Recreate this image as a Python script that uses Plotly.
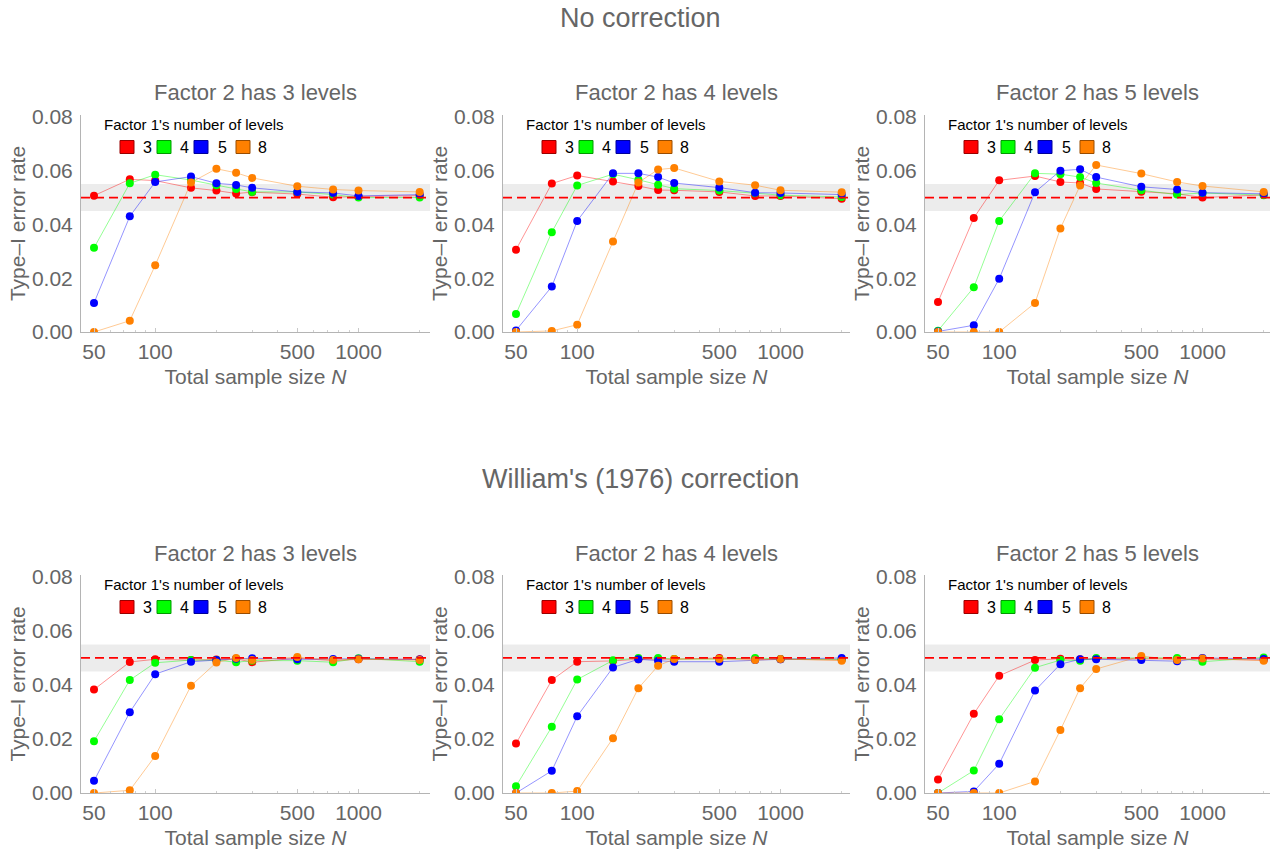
import math
import plotly.graph_objects as go

# ---------------- data ----------------
N = [50, 75, 100, 150, 200, 250, 300, 500, 750, 1000, 2000]
f1_levels = ["3", "4", "5", "8"]
f2_levels = [3, 4, 5]
corrections = ["No correction", "William's (1976) correction"]

nocorr_f2_3 = {
    "3": [0.0507, 0.0568, 0.0563, 0.0536, 0.0526, 0.0515, 0.0520, 0.0513, 0.0501, 0.0504, 0.0507],
    "4": [0.0313, 0.0553, 0.0585, 0.0565, 0.0546, 0.0532, 0.0521, 0.0521, 0.0511, 0.0500, 0.0500],
    "5": [0.0108, 0.0430, 0.0558, 0.0578, 0.0553, 0.0547, 0.0536, 0.0521, 0.0517, 0.0506, 0.0511],
    "8": [0.0000, 0.0042, 0.0248, 0.0556, 0.0607, 0.0592, 0.0573, 0.0542, 0.0530, 0.0526, 0.0521],
}
nocorr_f2_4 = {
    "3": [0.0306, 0.0552, 0.0582, 0.0560, 0.0543, 0.0528, 0.0527, 0.0521, 0.0506, 0.0506, 0.0496],
    "4": [0.0067, 0.0371, 0.0545, 0.0587, 0.0566, 0.0548, 0.0533, 0.0526, 0.0516, 0.0509, 0.0502],
    "5": [0.0006, 0.0169, 0.0413, 0.0590, 0.0590, 0.0576, 0.0554, 0.0537, 0.0518, 0.0517, 0.0511],
    "8": [0.0000, 0.0004, 0.0027, 0.0337, 0.0556, 0.0604, 0.0610, 0.0560, 0.0546, 0.0527, 0.0520],
}
nocorr_f2_5 = {
    "3": [0.0112, 0.0424, 0.0564, 0.0580, 0.0558, 0.0554, 0.0532, 0.0522, 0.0514, 0.0500, 0.0510],
    "4": [0.0005, 0.0166, 0.0413, 0.0590, 0.0587, 0.0576, 0.0554, 0.0527, 0.0511, 0.0517, 0.0509],
    "5": [0.0002, 0.0025, 0.0198, 0.0520, 0.0600, 0.0605, 0.0576, 0.0540, 0.0530, 0.0518, 0.0514],
    "8": [0.0000, 0.0000, 0.0000, 0.0108, 0.0385, 0.0545, 0.0621, 0.0589, 0.0558, 0.0543, 0.0521],
}
williams_f2_3 = {
    "3": [0.0383, 0.0485, 0.0495, 0.0492, 0.0494, 0.0497, 0.0484, 0.0499, 0.0490, 0.0495, 0.0495],
    "4": [0.0192, 0.0418, 0.0482, 0.0492, 0.0492, 0.0484, 0.0490, 0.0490, 0.0484, 0.0499, 0.0486],
    "5": [0.0045, 0.0299, 0.0440, 0.0486, 0.0492, 0.0497, 0.0499, 0.0495, 0.0496, 0.0497, 0.0494],
    "8": [0.0000, 0.0010, 0.0137, 0.0397, 0.0483, 0.0500, 0.0492, 0.0503, 0.0492, 0.0495, 0.0492],
}
williams_f2_4 = {
    "3": [0.0183, 0.0418, 0.0486, 0.0489, 0.0495, 0.0495, 0.0495, 0.0500, 0.0495, 0.0495, 0.0493],
    "4": [0.0025, 0.0245, 0.0420, 0.0491, 0.0500, 0.0500, 0.0496, 0.0496, 0.0500, 0.0496, 0.0495],
    "5": [0.0000, 0.0082, 0.0284, 0.0465, 0.0495, 0.0490, 0.0486, 0.0486, 0.0492, 0.0495, 0.0500],
    "8": [0.0000, 0.0000, 0.0007, 0.0203, 0.0388, 0.0471, 0.0496, 0.0496, 0.0492, 0.0496, 0.0490],
}
williams_f2_5 = {
    "3": [0.0050, 0.0293, 0.0434, 0.0492, 0.0497, 0.0495, 0.0497, 0.0497, 0.0497, 0.0496, 0.0492],
    "4": [0.0000, 0.0083, 0.0273, 0.0464, 0.0492, 0.0490, 0.0500, 0.0500, 0.0500, 0.0486, 0.0502],
    "5": [0.0000, 0.0006, 0.0108, 0.0379, 0.0477, 0.0495, 0.0495, 0.0492, 0.0488, 0.0500, 0.0496],
    "8": [0.0000, 0.0000, 0.0000, 0.0043, 0.0233, 0.0388, 0.0459, 0.0507, 0.0492, 0.0498, 0.0490],
}
nominal_alpha = 0.05
band_low, band_high = 0.045, 0.055

x_tickvals = [50, 100, 500, 1000]
x_minor = [40, 60, 70, 80, 90, 200, 300, 400, 600, 700, 800, 900, 2000]
y_tickvals = [0.0, 0.02, 0.04, 0.06, 0.08]
y_ticktext = ["0.00", "0.02", "0.04", "0.06", "0.08"]

panels = [
    [nocorr_f2_3, nocorr_f2_4, nocorr_f2_5],
    [williams_f2_3, williams_f2_4, williams_f2_5],
]

# ---------------- styling ----------------
colors = {"3": (255, 0, 0), "4": (0, 255, 0), "5": (0, 0, 255), "8": (255, 128, 0)}
W, H = 1270, 850
FONT = "Liberation Sans, Arial, Helvetica, sans-serif"
GREY = "#666666"
# positions below are in screen pixels
col_left = [81, 503, 925]
col_right = [430, 850, 1270]
row_top = [115, 575]
row_bot = [332, 793]
px_per_decade = 203.3
x50_offset = 13

fig = go.Figure()
annotations = []
shapes = []

def px(xp):
    return xp / W

def py(yp):
    return 1 - yp / H

k = 0
for r in range(2):
    for c in range(3):
        k += 1
        xa = "x" if k == 1 else f"x{k}"
        ya = "y" if k == 1 else f"y{k}"
        data = panels[r][c]
        for lev in f1_levels:
            rgb = colors[lev]
            fig.add_trace(go.Scatter(
                x=N, y=data[lev], mode="lines+markers",
                xaxis=xa, yaxis=ya, showlegend=False,
                line=dict(color=f"rgba({rgb[0]},{rgb[1]},{rgb[2]},0.42)", width=1),
                marker=dict(color=f"rgb({rgb[0]},{rgb[1]},{rgb[2]})", size=8),
                name=lev,
            ))
        L, R = col_left[c], col_right[c]
        lo = math.log10(50) - x50_offset / px_per_decade
        hi = lo + (R - L) / px_per_decade
        common_font = dict(family=FONT, size=21, color=GREY)
        fig.layout[f"xaxis{k if k > 1 else ''}"] = dict(
            type="log", domain=[px(L), min(1.0, px(R))], range=[lo, hi],
            anchor=ya, showgrid=False, zeroline=False, automargin=False,
            showline=True, linecolor="#b4b4b4", linewidth=1,
            tickvals=x_tickvals, ticktext=[str(v) for v in x_tickvals],
            ticks="inside", ticklen=4, tickcolor="#c8c8c8",
            minor=dict(tickvals=x_minor, ticks="inside", ticklen=2, tickcolor="#d0d0d0"),
            tickfont=common_font, ticklabelstandoff=1,
            title=dict(text="Total sample size <i>N</i>", font=common_font, standoff=7),
        )
        fig.layout[f"yaxis{k if k > 1 else ''}"] = dict(
            domain=[py(row_bot[r]), py(row_top[r])], range=[0, 0.0807],
            anchor=xa, showgrid=False, zeroline=False, automargin=False,
            showline=True, linecolor="#b4b4b4", linewidth=1,
            tickvals=y_tickvals, ticktext=y_ticktext, ticks="",
            tickfont=common_font, ticklabelstandoff=3,
            title=dict(text="Type\u2013I error rate", font=common_font, standoff=0),
        )
        # reference band and nominal line
        shapes.append(dict(type="rect", xref=f"{xa} domain", yref=ya, x0=0, x1=1,
                           y0=band_low, y1=band_high, fillcolor="rgba(200,200,200,0.35)",
                           line=dict(width=0), layer="below"))
        shapes.append(dict(type="line", xref=f"{xa} domain", yref=ya, x0=0, x1=1,
                           y0=nominal_alpha, y1=nominal_alpha,
                           line=dict(color="#ff0000", width=1.8, dash="9px,5px"), layer="above"))
        # subplot title
        annotations.append(dict(text=f"Factor 2 has {f2_levels[c]} levels", xref="paper", yref="paper",
                                x=px((L + R) / 2), y=py(row_top[r] - 22), showarrow=False,
                                xanchor="center", yanchor="middle",
                                font=dict(family=FONT, size=22, color=GREY)))
        # legend block
        ty = row_top[r] + 9
        annotations.append(dict(text="Factor 1's number of levels", xref="paper", yref="paper",
                                x=px(L + 21), y=py(ty), showarrow=False, xanchor="left", yanchor="middle",
                                font=dict(family=FONT, size=15, color="#000000")))
        sw_x = [39, 76, 113, 155]
        lab_x = [66, 103, 141, 181]
        sy = row_top[r] + 32
        for i, lev in enumerate(f1_levels):
            rgb = colors[lev]
            shapes.append(dict(type="rect", xref="paper", yref="paper",
                               x0=px(L + sw_x[i]), x1=px(L + sw_x[i] + 14),
                               y0=py(sy + 6.5), y1=py(sy - 6.5),
                               fillcolor=f"rgb({rgb[0]},{rgb[1]},{rgb[2]})",
                               line=dict(color=f"rgb({int(rgb[0]*0.6)},{int(rgb[1]*0.6)},{int(rgb[2]*0.6)})", width=1)))
            annotations.append(dict(text=lev, xref="paper", yref="paper",
                                    x=px(L + lab_x[i]), y=py(sy), showarrow=False,
                                    xanchor="center", yanchor="middle",
                                    font=dict(family=FONT, size=16, color="#000000")))

# row (main) titles
for r, t in enumerate(corrections):
    annotations.append(dict(text=t, xref="paper", yref="paper", x=px(640), y=py([18, 479][r]),
                            showarrow=False, xanchor="center", yanchor="middle",
                            font=dict(family=FONT, size=27, color=GREY)))

fig.update_layout(
    width=W, height=H, margin=dict(l=0, r=0, t=0, b=0, autoexpand=False),
    paper_bgcolor="white", plot_bgcolor="white",
    annotations=annotations, shapes=shapes,
    font=dict(family=FONT, color=GREY),
)

fig.write_html(
    "out.html",
    config={"displayModeBar": False},
    post_script="document.body.style.margin='0';document.body.style.overflow='hidden';",
)
